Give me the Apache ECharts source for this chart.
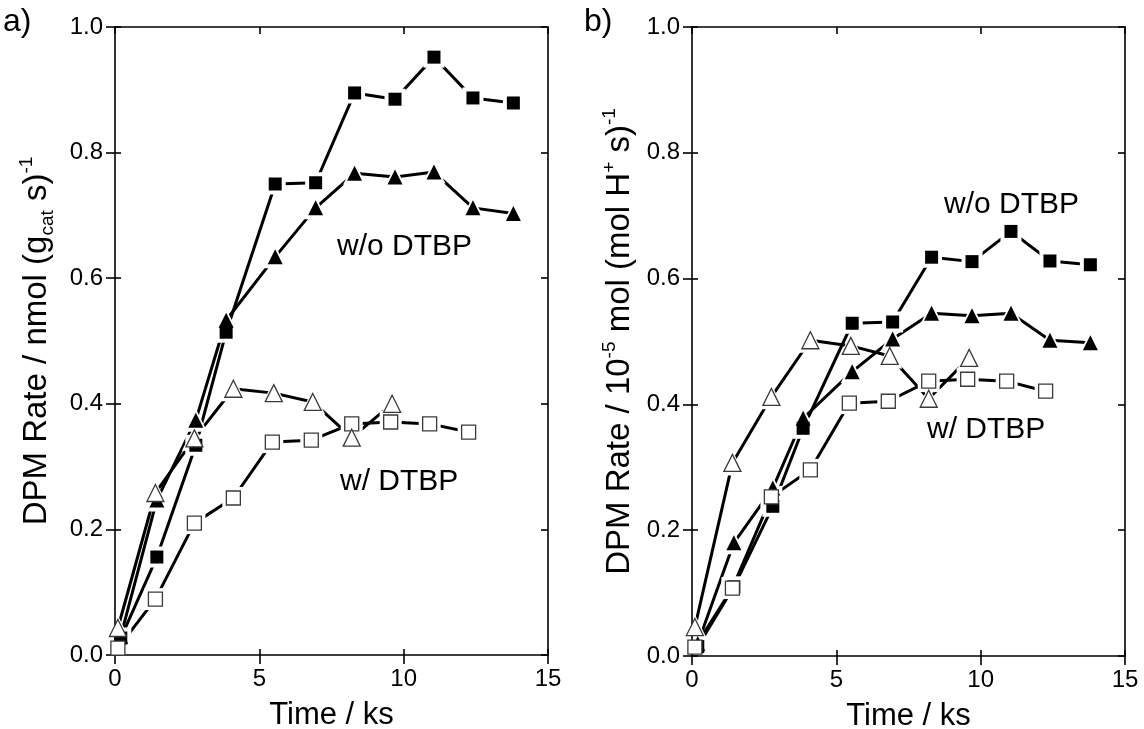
<!DOCTYPE html>
<html>
<head>
<meta charset="utf-8">
<title>DPM Rate vs Time</title>
<script src="https://cdn.jsdelivr.net/npm/echarts@6/dist/echarts.min.js"></script>
<style>
  html, body { margin: 0; padding: 0; background: #fff; }
  #chart { width: 1144px; height: 729px; }
</style>
</head>
<body>
<div id="chart"></div>
<script>
// Sampling times (ks)
const timeFilled  = [0.2, 1.45, 2.8, 3.85, 5.55, 6.95, 8.3, 9.7, 11.05, 12.4, 13.8];
const timeOpenSq  = [0.1, 1.4, 2.75, 4.1, 5.45, 6.8, 8.2, 9.55, 10.9, 12.25];
const timeOpenTri = [0.1, 1.4, 2.75, 4.1, 5.5, 6.85, 8.2, 9.6];

// a) rate per gram of catalyst, nmol (g_cat s)^-1
const aFilledSq  = [0.027, 0.156, 0.334, 0.514, 0.750, 0.752, 0.895, 0.885, 0.952, 0.887, 0.879];
const aFilledTri = [0.030, 0.247, 0.374, 0.533, 0.634, 0.712, 0.767, 0.761, 0.769, 0.712, 0.703];
const aOpenSq    = [0.011, 0.089, 0.210, 0.250, 0.339, 0.342, 0.368, 0.371, 0.368, 0.355];
const aOpenTri   = [0.043, 0.258, 0.345, 0.424, 0.417, 0.403, 0.346, 0.400];

// b) rate per acid site, 10^-5 mol (mol H+ s)^-1
const bFilledSq  = [0.015, 0.110, 0.238, 0.362, 0.529, 0.531, 0.634, 0.627, 0.675, 0.628, 0.622];
const bFilledTri = [0.020, 0.180, 0.267, 0.378, 0.452, 0.504, 0.545, 0.541, 0.545, 0.502, 0.498];
const bOpenSq    = [0.014, 0.108, 0.253, 0.296, 0.402, 0.405, 0.437, 0.440, 0.437, 0.421];
const bOpenTri   = [0.046, 0.307, 0.412, 0.502, 0.493, 0.477, 0.409, 0.474];

const xTicks = { min: 0, max: 15, interval: 5 };
const yTicks = { min: 0, max: 1.0, interval: 0.2 };

const FONT = '"Liberation Sans", Arial, sans-serif';
const INK = '#000';

function pairs(xs, ys) { return ys.map((y, i) => [xs[i], y]); }

const grids = [
  { left: 115, right: 596, top: 27, bottom: 74, outerBoundsMode: 'none', containLabel: false },
  { left: 692, right: 19, top: 27, bottom: 73, outerBoundsMode: 'none', containLabel: false }
];

const nameRich = {
  n:   { fontSize: 33, fontFamily: FONT, color: INK, lineHeight: 40 },
  sub: { fontSize: 19, fontFamily: FONT, color: INK, lineHeight: 40, verticalAlign: 'bottom' },
  sup: { fontSize: 19, fontFamily: FONT, color: INK, lineHeight: 40, verticalAlign: 'top' }
};

const yNames = [
  '{n|DPM Rate / nmol (g}{sub|cat}{n| s)}{sup|-1}',
  '{n|DPM Rate / 10}{sup|-5}{n| mol (mol H}{sup|+}{n| s)}{sup|-1}'
];
const yNameGaps = [58, 52];

const xAxes = [], yAxes = [];
grids.forEach((g, gi) => {
  // bottom: labelled axis with outward ticks
  xAxes.push({
    gridIndex: gi, type: 'value', position: 'bottom', ...xTicks, z: 3,
    name: 'Time / ks', nameLocation: 'middle', nameGap: 45,
    nameTextStyle: { fontSize: 31, fontFamily: FONT, color: INK },
    axisLine: { show: true, onZero: false, lineStyle: { color: INK, width: 1.6 } },
    axisTick: { show: true, inside: false, length: 9, lineStyle: { color: INK, width: 1.6 } },
    axisLabel: { fontSize: 24, fontFamily: FONT, color: INK, margin: 12 },
    splitLine: { show: false }
  });
  // bottom: inward tick stubs
  xAxes.push({
    gridIndex: gi, type: 'value', position: 'bottom', ...xTicks, z: 3,
    axisLine: { show: false, onZero: false },
    axisTick: { show: true, inside: true, length: 6, lineStyle: { color: INK, width: 1.6 } },
    axisLabel: { show: false }, splitLine: { show: false }
  });
  // top frame edge
  xAxes.push({
    gridIndex: gi, type: 'value', position: 'top', ...xTicks, z: 3,
    axisLine: { show: true, onZero: false, lineStyle: { color: INK, width: 1.6 } },
    axisTick: { show: true, inside: true, length: 7, lineStyle: { color: INK, width: 1.6 } },
    axisLabel: { show: false }, splitLine: { show: false }
  });

  yAxes.push({
    gridIndex: gi, type: 'value', position: 'left', ...yTicks, z: 3,
    name: yNames[gi], nameLocation: 'middle', nameGap: yNameGaps[gi],
    nameTextStyle: { rich: nameRich },
    axisLine: { show: true, onZero: false, lineStyle: { color: INK, width: 1.6 } },
    axisTick: { show: true, inside: false, length: 9, lineStyle: { color: INK, width: 1.6 } },
    axisLabel: { fontSize: 24, fontFamily: FONT, color: INK, margin: 12,
                 formatter: v => v.toFixed(1) },
    splitLine: { show: false }
  });
  yAxes.push({
    gridIndex: gi, type: 'value', position: 'left', ...yTicks, z: 3,
    axisLine: { show: false, onZero: false },
    axisTick: { show: true, inside: true, length: 6, lineStyle: { color: INK, width: 1.6 } },
    axisLabel: { show: false }, splitLine: { show: false }
  });
  yAxes.push({
    gridIndex: gi, type: 'value', position: 'right', ...yTicks, z: 3,
    axisLine: { show: true, onZero: false, lineStyle: { color: INK, width: 1.6 } },
    axisTick: { show: true, inside: true, length: 7, lineStyle: { color: INK, width: 1.6 } },
    axisLabel: { show: false }, splitLine: { show: false }
  });
});

// Curve definitions: [panel, times, values, symbol, size, open?]
const curves = [
  [0, timeFilled,  aFilledSq,  'rect',     13, false],
  [0, timeFilled,  aFilledTri, 'triangle', 15, false],
  [0, timeOpenSq,  aOpenSq,    'rect',     14, true],
  [0, timeOpenTri, aOpenTri,   'triangle', 17, true],
  [1, timeFilled,  bFilledSq,  'rect',     13, false],
  [1, timeFilled,  bFilledTri, 'triangle', 15, false],
  [1, timeOpenSq,  bOpenSq,    'rect',     14, true],
  [1, timeOpenTri, bOpenTri,   'triangle', 17, true]
];

const series = [];
curves.forEach(([p, xs, ys, sym, size, open]) => {
  const data = pairs(xs, ys);
  const axisRef = { xAxisIndex: p * 3, yAxisIndex: p * 3 };
  // connecting line
  series.push({
    type: 'line', ...axisRef, data, z: 1, symbol: 'none', silent: true,
    lineStyle: { color: INK, width: 3 }
  });
  // white gap around each marker
  series.push({
    type: 'scatter', ...axisRef, data, z: 2, symbol: sym, symbolSize: size + 8,
    silent: true, clip: false,
    itemStyle: { color: '#fff', opacity: 1 }
  });
  // marker
  series.push({
    type: 'scatter', ...axisRef, data, z: 5, symbol: sym, symbolSize: size,
    silent: true, clip: false,
    itemStyle: open
      ? { color: '#fff', borderColor: '#3a3a3a', borderWidth: 1.3, opacity: 1 }
      : { color: INK, opacity: 1 }
  });
});

const textStyle = (text, x, y, size) => ({
  type: 'text', left: x, top: y,
  style: { text, fontSize: size, fontFamily: FONT, fill: INK }
});

const option = {
  animation: false,
  backgroundColor: '#fff',
  grid: grids,
  xAxis: xAxes,
  yAxis: yAxes,
  series,
  graphic: [
    textStyle('a)', 3, 6, 32),
    textStyle('b)', 584, 6, 32),
    textStyle('w/o DTBP', 337, 232, 30),
    textStyle('w/ DTBP', 340, 467, 30),
    textStyle('w/o DTBP', 944, 190, 30),
    textStyle('w/ DTBP', 927, 415, 30)
  ]
};

const chart = echarts.init(document.getElementById('chart'), null, { renderer: 'canvas' });
chart.setOption(option);
</script>
</body>
</html>
